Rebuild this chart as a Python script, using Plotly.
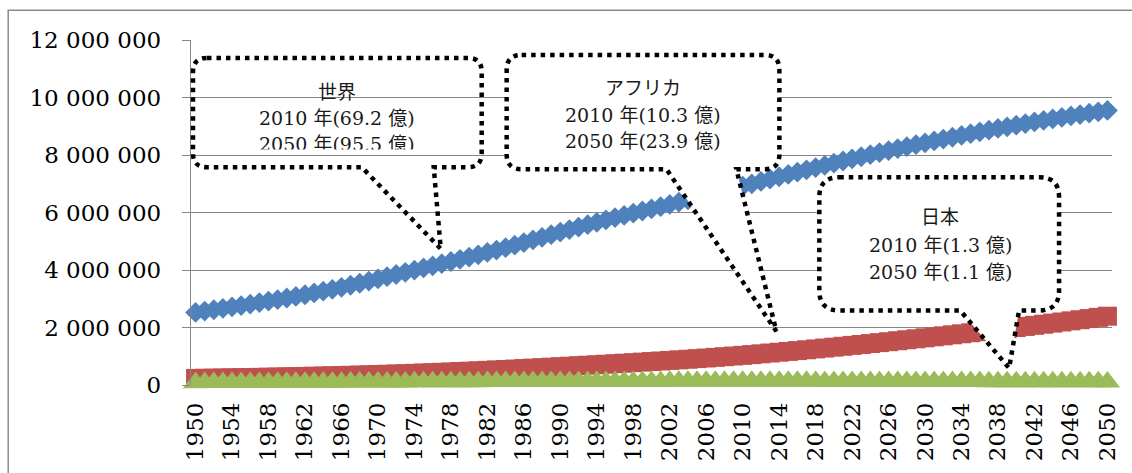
import plotly.graph_objects as go

# World / Africa / Japan population, 1950-2050 (thousands)
years = list(range(1950, 2051))

world = [
    2525149, 2571868, 2617940, 2665320, 2716331, 2761650, 2814000, 2867000, 2920000, 2972000,
    3026003, 3081000, 3140000, 3202000, 3265000, 3329122, 3396000, 3469000, 3540000, 3615000,
    3691173, 3767000, 3843000, 3920000, 3995000, 4071020, 4146000, 4221000, 4296000, 4373000,
    4449049, 4529000, 4611000, 4694000, 4778000, 4863602, 4953000, 5045000, 5138000, 5230000,
    5320817, 5407000, 5492000, 5576000, 5659000, 5741822, 5822000, 5900000, 5977000, 6052000,
    6127700, 6204000, 6281000, 6358000, 6436000, 6514095, 6593000, 6673000, 6754000, 6835000,
    6916183, 6998000, 7080000, 7162000, 7243000, 7324782, 7404000, 7483000, 7561000, 7639000,
    7716749, 7792000, 7866000, 7939000, 8012000, 8083413, 8153000, 8222000, 8290000, 8358000,
    8424937, 8490000, 8554000, 8618000, 8681000, 8743447, 8804000, 8864000, 8923000, 8981000,
    9038687, 9094000, 9149000, 9203000, 9256000, 9308438, 9358000, 9407000, 9455000, 9503000,
    9550945,
]

africa = [
    228827, 233600, 238600, 243700, 248900, 254300, 259900, 265800, 271900, 278200,
    284700, 291400, 298400, 305700, 313200, 321000, 329100, 337500, 346300, 355400,
    364800, 374600, 384700, 395200, 406100, 417400, 429200, 441400, 454100, 467200,
    480900, 495000, 509600, 524500, 539900, 555600, 571600, 587800, 604300, 620900,
    637600, 654400, 671300, 688400, 705800, 723300, 741100, 759100, 777500, 796200,
    815300, 834700, 854600, 874900, 895800, 917200, 939300, 961900, 985000, 1008600,
    1031084, 1057600, 1084500, 1111900, 1139800, 1168200, 1196800, 1225900, 1255400, 1285400,
    1315800, 1346600, 1377800, 1409400, 1441400, 1473800, 1506600, 1539700, 1573200, 1607100,
    1641300, 1675900, 1710800, 1746000, 1781500, 1817300, 1853300, 1889500, 1925900, 1962500,
    1999300, 2037200, 2075400, 2113900, 2152700, 2191700, 2231200, 2271000, 2311200, 2351800,
    2393175,
]

japan = [
    82199, 83600, 85000, 86200, 87400, 88500, 89500, 90400, 91300, 92200,
    93000, 93900, 94800, 95800, 96800, 97900, 99000, 100100, 101300, 102500,
    103700, 105000, 106800, 108200, 109600, 110800, 112000, 113100, 114100, 115100,
    116000, 116800, 117600, 118400, 119100, 119800, 120400, 121000, 121500, 122000,
    122400, 122800, 123200, 123600, 123900, 124300, 124600, 124900, 125200, 125400,
    125700, 126000, 126300, 126500, 126700, 126900, 127000, 127100, 127200, 127300,
    127353, 127300, 127200, 127100, 126900, 126800, 126600, 126300, 126100, 125800,
    125400, 125100, 124700, 124300, 123900, 123400, 123000, 122500, 122000, 121500,
    120900, 120400, 119800, 119200, 118600, 118000, 117400, 116800, 116200, 115600,
    114900, 114300, 113600, 113000, 112300, 111600, 110900, 110300, 109600, 109000,
    108329,
]

y_ticks = [0, 2000000, 4000000, 6000000, 8000000, 10000000, 12000000]
y_tick_text = ["0", "2 000 000", "4 000 000", "6 000 000", "8 000 000", "10 000 000", "12 000 000"]
x_ticks = list(range(1950, 2051, 4))

callout_texts = {
    "world": ["世界", "2010 年(69.2 億)", "2050 年(95.5 億)"],
    "africa": ["アフリカ", "2010 年(10.3 億)", "2050 年(23.9 億)"],
    "japan": ["日本", "2010 年(1.3 億)", "2050 年(1.1 億)"],
}

FONT = "DejaVu Serif, Noto Sans CJK JP, serif"
W, H = 1132, 473
PL, PR, PT, PB = 191, 1113, 40, 387  # plot-area edges in page pixels


def paper(x, y):
    return (x - PL) / (PR - PL), (PB - y) / (PB - PT)


def pt(x, y):
    px, py = paper(x, y)
    return f"{px:.5f},{py:.5f}"


def bubble(left, top, right, bottom, r, xa, tip, xb):
    """Rounded box with a pointer leaving its bottom edge between xa and xb."""
    tx, ty = tip
    return (
        f"M{pt(left + r, top)} L{pt(right - r, top)} "
        f"Q{pt(right, top)} {pt(right, top + r)} "
        f"L{pt(right, bottom - r)} Q{pt(right, bottom)} {pt(right - r, bottom)} "
        f"L{pt(xb, bottom)} L{pt(tx, ty)} L{pt(xa, bottom)} "
        f"L{pt(left + r, bottom)} Q{pt(left, bottom)} {pt(left, bottom - r)} "
        f"L{pt(left, top + r)} Q{pt(left, top)} {pt(left + r, top)} Z"
    )


fig = go.Figure()

fig.add_trace(go.Scatter(
    x=years, y=world, mode="markers", name="世界",
    marker=dict(symbol="diamond", size=16, color="#4F81BD", line=dict(width=0)),
    cliponaxis=False,
))
fig.add_trace(go.Scatter(
    x=years, y=africa, mode="markers", name="アフリカ",
    marker=dict(symbol="square", size=19, color="#C0504D", line=dict(width=0)),
    cliponaxis=False,
))
fig.add_trace(go.Scatter(
    x=years, y=japan, mode="markers", name="日本",
    marker=dict(symbol="triangle-up", size=22, color="#9BBB59", line=dict(width=0)),
    cliponaxis=False,
))

dot_line = dict(color="black", width=4.5, dash="4.5px,5px")

shapes = [
    # outer chart frame (left and top edges)
    dict(type="path", xref="paper", yref="paper", layer="below",
         path=f"M{pt(8, 490)} L{pt(8, 10)} L{pt(1145, 10)}",
         line=dict(color="#8A8A8A", width=1.5)),
    # 世界 callout (transparent)
    dict(type="path", xref="paper", yref="paper", layer="above",
         path=bubble(193, 58, 482, 168, 14, 362, (441, 250), 434),
         line=dot_line, fillcolor="rgba(0,0,0,0)"),
    # アフリカ callout
    dict(type="path", xref="paper", yref="paper", layer="above",
         path=bubble(507, 55, 780, 170, 15, 667, (777, 333), 737),
         line=dot_line, fillcolor="white"),
    # 日本 callout
    dict(type="path", xref="paper", yref="paper", layer="above",
         path=bubble(820, 178, 1060, 312, 20, 961, (1010, 370), 1020),
         line=dot_line, fillcolor="white"),
]

annotations = []
line_pos = {
    "world": (337, [92, 118, 145]),
    "africa": (643, [88, 115, 142]),
    "japan": (941, [218, 246, 273]),
}
for key, (cx, ys) in line_pos.items():
    for txt, yy in zip(callout_texts[key], ys):
        ax_, ay_ = paper(cx, yy)
        annotations.append(dict(
            x=ax_, y=ay_, xref="paper", yref="paper", text=txt, showarrow=False,
            xanchor="center", yanchor="middle",
            font=dict(family=FONT, size=19, color="#1a1a1a"),
        ))

# the world text box cuts off the lower edge of its last line
mx, my = paper(337, 153)
annotations.append(dict(
    x=mx, y=my, xref="paper", yref="paper", text=" ", showarrow=False,
    xanchor="center", yanchor="middle", width=175, height=4, borderpad=0,
    bgcolor="white", font=dict(size=1),
))

fig.update_layout(
    width=W, height=H, autosize=False,
    margin=dict(l=PL, r=W - PR, t=PT, b=H - PB, pad=0),
    paper_bgcolor="white", plot_bgcolor="white",
    showlegend=False,
    font=dict(family=FONT, size=23, color="black"),
    shapes=shapes, annotations=annotations,
)

fig.update_xaxes(
    range=[1949.5, 2050.5], tickmode="array", tickvals=x_ticks,
    ticktext=[str(v) for v in x_ticks], tickangle=-90,
    showgrid=False, zeroline=False, showline=False,
    ticks="", ticklabelstandoff=12,
    tickfont=dict(family=FONT, size=23, color="black"),
)
fig.update_yaxes(
    range=[0, 12000000], tickmode="array", tickvals=y_ticks, ticktext=y_tick_text,
    showgrid=True, gridcolor="#878787", gridwidth=1.4,
    zeroline=False, showline=True, linecolor="#878787", linewidth=1.4,
    ticks="outside", ticklen=8, tickcolor="#878787", tickwidth=1.4,
    ticklabelstandoff=16,
    tickfont=dict(family=FONT, size=23, color="black"),
)

fig.write_html("out.html")
